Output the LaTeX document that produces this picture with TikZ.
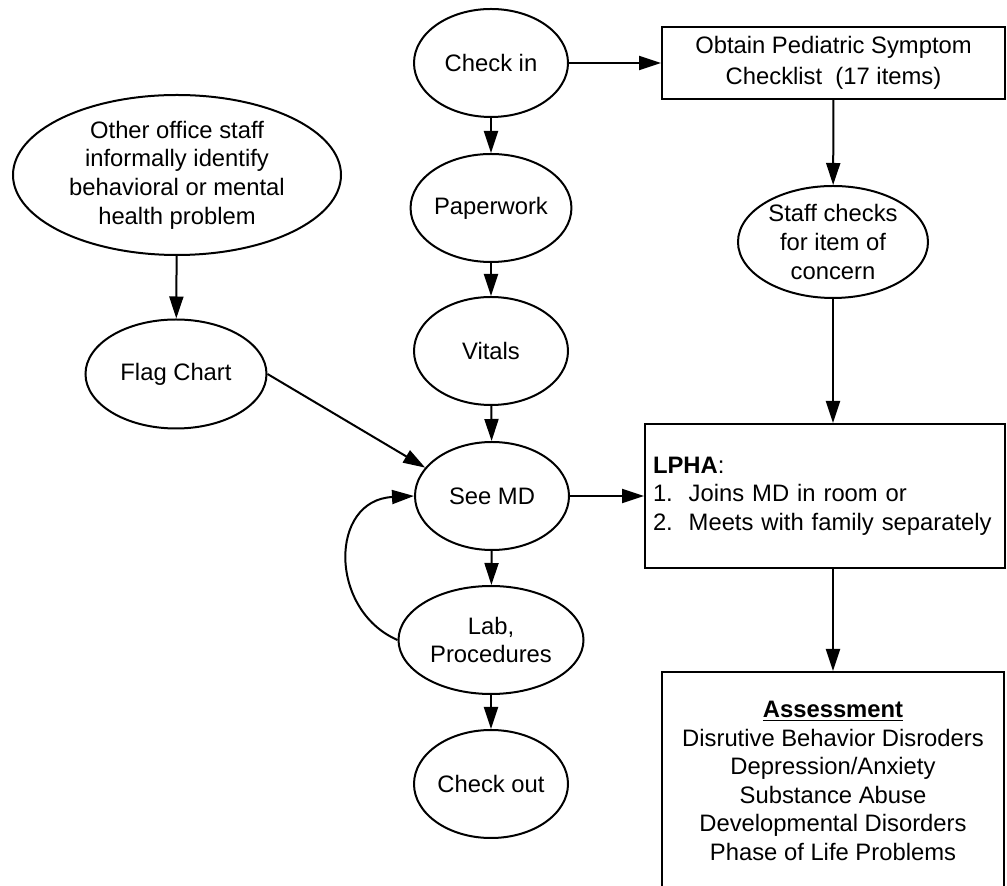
\documentclass[tikz,border=0pt]{standalone}
\usepackage{fontspec}
\setmainfont{Liberation Sans}
\usetikzlibrary{arrows.meta,shapes.geometric}
\newcommand{\chartfont}{\fontsize{11.9pt}{14.3pt}\selectfont}
\tikzset{
  oval/.style={ellipse, draw, line width=1pt, inner sep=0pt, align=center},
  box/.style={rectangle, draw, line width=1pt, align=center},
  flow/.style={-{Triangle[length=11pt,width=7pt]}, line width=1pt}
}

\begin{document}
\begin{tikzpicture}[x=0.5pt, y=-0.5pt, font=\chartfont]
  % page frame
  \clip (0,0) rectangle (1007,886);
  % main visit column
  \node[oval, minimum width=77pt, minimum height=54pt] (checkin) at (491,63) {Check in};
  \node[oval, minimum width=77pt, minimum height=54pt] (paperwork) at (491,208) {Paperwork};
  \node[oval, minimum width=77pt, minimum height=54pt] (vitals) at (491,351) {Vitals};
  \node[oval, minimum width=77pt, minimum height=54pt] (seemd) at (492,496) {See MD};
  \node[oval, minimum width=92.5pt, minimum height=54pt] (lab) at (491,640) {Lab,\\Procedures};
  \node[oval, minimum width=77pt, minimum height=54pt] (checkout) at (491,784) {Check out};
  % informal route
  \node[oval, minimum width=164pt, minimum height=80pt] (other) at (177,175)
    {Other office staff\\informally identify\\behavioral or mental\\health problem};
  \node[oval, minimum width=90.5pt, minimum height=54.5pt] (flag) at (176,374) {Flag Chart};
  % screening route
  \node[box, minimum width=171.5pt, minimum height=36pt, font={\fontsize{11.9pt}{15.4pt}\selectfont}] (obtain) at (833.5,63)
    {Obtain Pediatric Symptom\\Checklist\ \ (17 items)};
  \node[oval, minimum width=95pt, minimum height=56pt] (staff) at (833,242) {Staff checks\\for item of\\concern};
  \node[box, align=left, text width=172pt, inner xsep=4pt, minimum height=72pt] (lpha) at (825,496)
    {\textbf{LPHA}:\\1.\ \ Joins MD in room or\\2.\ \ Meets with family separately};
  \node[box, minimum width=171pt, minimum height=109pt] (assess) at (833,781)
    {\underline{\textbf{Assessment}}\\Disrutive Behavior Disroders\\Depression/Anxiety\\Substance Abuse\\Developmental Disorders\\Phase of Life Problems};
  % connectors
  \draw[flow] (checkin) -- (paperwork);
  \draw[flow] (paperwork) -- (vitals);
  \draw[flow] (vitals) -- (seemd);
  \draw[flow] (seemd) -- (lab);
  \draw[flow] (lab) -- (checkout);
  \draw[flow] (lab.west) .. controls +(-69,-30) and +(-85,4) .. (seemd.west);
  \draw[flow] (checkin.east) -- (obtain.west);
  \draw[flow] (obtain) -- (staff);
  \draw[flow] (staff.south) -- (staff.south |- lpha.north);
  \draw[flow] (seemd.east) -- (seemd.east -| lpha.west);
  \draw[flow] (lpha.south -| assess.north) -- (assess.north);
  \draw[flow] (other) -- (flag);
  \draw[flow] (flag.east) -- (seemd.157);
\end{tikzpicture}
\end{document}
